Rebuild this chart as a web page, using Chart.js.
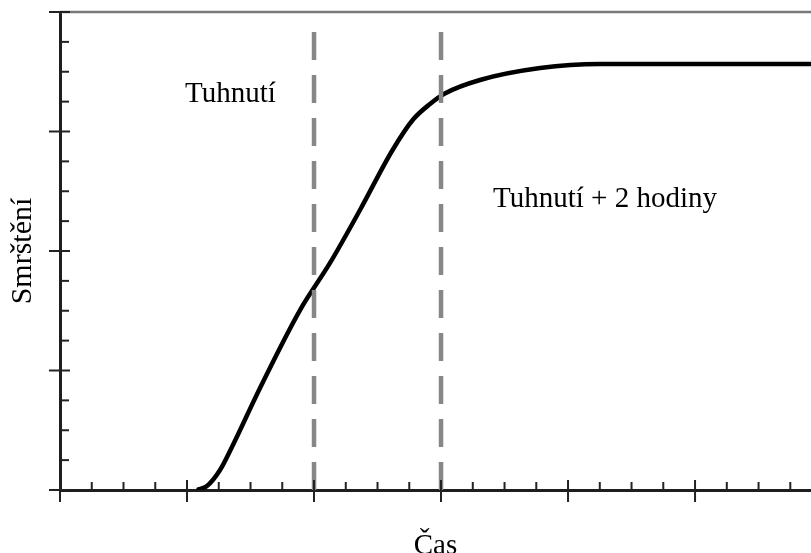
<!DOCTYPE html>
<html>
<head>
<meta charset="utf-8">
<script src="https://cdn.jsdelivr.net/npm/chart.js@4.4.1/dist/chart.umd.min.js"></script>
<style>
html,body{margin:0;padding:0;background:#fff;}
#wrap{width:811px;height:553px;}
</style>
</head>
<body>
<div id="wrap"><canvas id="c" width="811" height="553"></canvas></div>
<script>
// ---- data ----
const timeX   = [1.079, 1.157, 1.260, 1.354, 1.575, 1.890, 2.126, 2.362, 2.614, 2.780, 2.913, 3.030, 3.307, 3.780, 4.252, 5.913];
const shrinkY = [0.000, 0.033, 0.167, 0.360, 0.854, 1.506, 1.900, 2.343, 2.837, 3.100, 3.230, 3.318, 3.431, 3.531, 3.565, 3.565];
const phaseLinesX = [2, 3];
const phaseLineTop = 3.866;
const noteTexts = ['Tuhnutí', 'Tuhnutí + 2 hodiny'];
const noteX = [0.984, 3.409];
const noteY = [3.247, 2.368];
const xTitle = 'Čas';
const yTitle = 'Smrštění';
const xMajorTicks = [0, 1, 2, 3, 4, 5];
const xMinorTicks = [0.25, 0.5, 0.75, 1.25, 1.5, 1.75, 2.25, 2.5, 2.75, 3.25, 3.5, 3.75, 4.25, 4.5, 4.75, 5.25, 5.5, 5.75];
const yMajorTicks = [0, 1, 2, 3, 4];
const yMinorTicks = [0.25, 0.5, 0.75, 1.25, 1.5, 1.75, 2.25, 2.5, 2.75, 3.25, 3.5, 3.75];
const xMax = 5.913;
const yMax = 4;

const FONT = 'Liberation Serif, Times New Roman, serif';

const curveData = timeX.map((x, i) => ({x: x, y: shrinkY[i]}));
const phaseSets = phaseLinesX.map(x => ({
  data: [{x: x, y: 0}, {x: x, y: phaseLineTop}],
  borderColor: '#878787',
  borderWidth: 4.5,
  borderDash: [28, 15],
  borderCapStyle: 'butt',
  pointRadius: 0,
  tension: 0
}));

const decor = {
  id: 'decor',
  afterDraw(chart) {
    const ctx = chart.ctx;
    const xs = chart.scales.x, ys = chart.scales.y;
    const ca = chart.chartArea;
    const x0 = ca.left, y0 = ca.bottom;
    ctx.save();
    // top frame line
    ctx.strokeStyle = '#7a7a7a';
    ctx.lineWidth = 2.5;
    ctx.beginPath();
    ctx.moveTo(x0, ys.getPixelForValue(yMax));
    ctx.lineTo(ca.right, ys.getPixelForValue(yMax));
    ctx.stroke();
    // ticks
    ctx.strokeStyle = '#222';
    ctx.lineWidth = 2;
    const seg = (a, b, c, d) => { ctx.beginPath(); ctx.moveTo(a, b); ctx.lineTo(c, d); ctx.stroke(); };
    xMajorTicks.forEach(v => { const p = xs.getPixelForValue(v); seg(p, y0 - 10, p, y0 + 12); });
    xMinorTicks.forEach(v => { const p = xs.getPixelForValue(v); seg(p, y0 - 8, p, y0); });
    yMajorTicks.forEach(v => { const p = ys.getPixelForValue(v); seg(x0 - 11, p, x0 + 10, p); });
    yMinorTicks.forEach(v => { const p = ys.getPixelForValue(v); seg(x0, p, x0 + 9, p); });
    // notes
    ctx.fillStyle = '#000';
    ctx.font = '29px ' + FONT;
    ctx.textAlign = 'left';
    ctx.textBaseline = 'alphabetic';
    noteTexts.forEach((t, i) => {
      ctx.fillText(t, xs.getPixelForValue(noteX[i]), ys.getPixelForValue(noteY[i]));
    });
    ctx.restore();
  }
};

new Chart(document.getElementById('c'), {
  type: 'line',
  data: {
    datasets: phaseSets.concat([{
      data: curveData,
      borderColor: '#000',
      borderWidth: 4.5,
      pointRadius: 0,
      cubicInterpolationMode: 'monotone',
      fill: false
    }])
  },
  options: {
    responsive: false,
    animation: false,
    devicePixelRatio: 1,
    layout: {padding: {left: 0, right: 0, top: 12, bottom: 0}},
    plugins: {legend: {display: false}, tooltip: {enabled: false}},
    elements: {point: {radius: 0}},
    scales: {
      x: {
        type: 'linear', min: 0, max: xMax,
        grid: {display: false, drawTicks: false},
        border: {display: true, color: '#1e1e1e', width: 3},
        ticks: {display: false},
        title: {display: true, text: xTitle, color: '#000',
                font: {family: FONT, size: 29, lineHeight: 1},
                padding: {top: 41.5, bottom: -7.5}}
      },
      y: {
        type: 'linear', min: 0, max: yMax,
        grid: {display: false, drawTicks: false},
        border: {display: true, color: '#1e1e1e', width: 3},
        ticks: {display: false},
        title: {display: true, text: yTitle, color: '#000',
                font: {family: FONT, size: 30, lineHeight: 1},
                padding: {top: 8, bottom: 22}}
      }
    }
  },
  plugins: [decor]
});
</script>
</body>
</html>
